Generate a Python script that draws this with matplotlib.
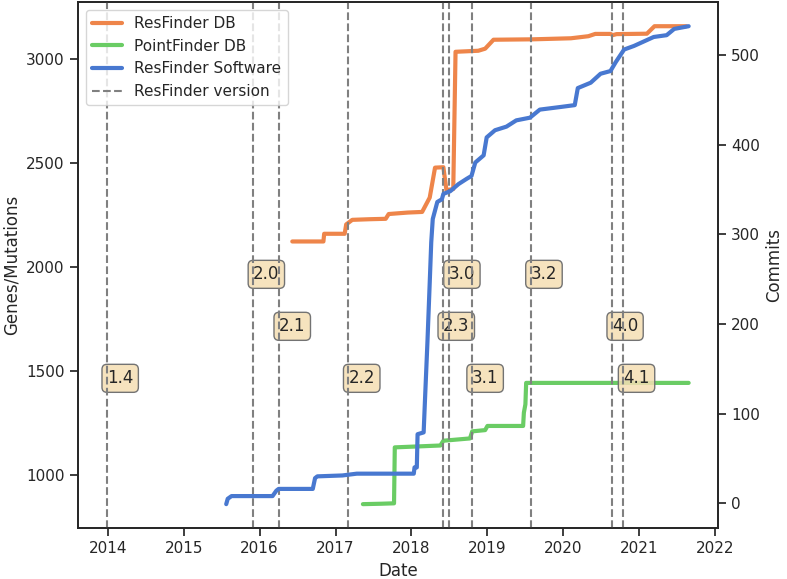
from matplotlib import pyplot as plt
from matplotlib.lines import Line2D
from matplotlib.ticker import MultipleLocator, FormatStrFormatter
import seaborn as sns

# ResFinder DB size (decimal year, genes)
resfinder_x = [2016.43, 2016.84, 2016.85, 2017.12, 2017.14, 2017.22, 2017.45, 2017.66, 2017.70, 2017.95,
               2018.14, 2018.24, 2018.31, 2018.42, 2018.46, 2018.55, 2018.58, 2018.88, 2018.97, 2019.08,
               2019.60, 2020.10, 2020.33, 2020.42, 2020.62, 2020.65, 2020.70, 2021.10, 2021.20, 2021.62]
resfinder_y = [2123, 2123, 2160, 2160, 2205, 2227, 2230, 2232, 2255, 2262,
               2265, 2334, 2478, 2480, 2370, 2375, 3035, 3040, 3050, 3093,
               3095, 3100, 3110, 3121, 3121, 3115, 3120, 3122, 3158, 3158]

# PointFinder DB size (decimal year, mutations)
pointfinder_x = [2017.36, 2017.60, 2017.77, 2017.78, 2018.38, 2018.42, 2018.77, 2018.80, 2018.97, 2019.00,
                 2019.47, 2019.48, 2019.50, 2019.51, 2021.65]
pointfinder_y = [860, 862, 864, 1133, 1142, 1165, 1176, 1210, 1216, 1236,
                 1236, 1300, 1340, 1443, 1443]

# ResFinder software commits (decimal year, cumulative commits)
software_x = [2015.56, 2015.58, 2015.63, 2016.17, 2016.22, 2016.25, 2016.70, 2016.73, 2016.76, 2017.09,
              2017.28, 2018.03, 2018.04, 2018.07, 2018.08, 2018.16, 2018.18, 2018.21, 2018.24, 2018.26,
              2018.28, 2018.34, 2018.40, 2018.42, 2018.51, 2018.62, 2018.73, 2018.79, 2018.84, 2018.95,
              2018.99, 2019.10, 2019.25, 2019.38, 2019.56, 2019.69, 2019.97, 2020.15, 2020.19, 2020.36,
              2020.49, 2020.62, 2020.69, 2020.80, 2020.93, 2021.06, 2021.19, 2021.36, 2021.46, 2021.65]
software_y = [-1, 5, 8, 8, 14, 16, 16, 28, 30, 31,
              33, 33, 40, 40, 77, 79, 120, 180, 246, 291,
              317, 336, 339, 345, 348, 356, 362, 365, 380, 388,
              408, 416, 420, 427, 430, 439, 442, 444, 463, 469,
              479, 482, 492, 506, 510, 515, 520, 522, 529, 532]

# ResFinder releases
versions = ['1.4', '2.0', '2.1', '2.2', '2.3', '3.0', '3.1', '3.2', '4.0', '4.1']
version_dates = [2013.99, 2015.915, 2016.255, 2017.17, 2018.415, 2018.49, 2018.795, 2019.57, 2020.64, 2020.79]
version_label_y = [1465, 1965, 1715, 1465, 1715, 1965, 1465, 1965, 1715, 1465]


def plot_history():
    sns.set_theme(style='ticks', palette='muted')
    colors = sns.color_palette('muted')

    fig, ax1 = plt.subplots(figsize=(7.87, 5.79), dpi=100)
    ax2 = ax1.twinx()

    ax1.plot(resfinder_x, resfinder_y, color=colors[1], lw=3, label='ResFinder DB')
    ax1.plot(pointfinder_x, pointfinder_y, color=colors[2], lw=3, label='PointFinder DB')

    for v, d, y in zip(versions, version_dates, version_label_y):
        ax1.text(d, y, v, fontsize=12, va='center', ha='left',
                 bbox=dict(boxstyle='round', facecolor=(0.96, 0.87, 0.70, 0.85),
                           edgecolor=(0.45, 0.45, 0.45)))

    for d in version_dates:
        ax2.axvline(d, color='gray', linestyle='--', lw=1.5)
    ax2.plot(software_x, software_y, color=colors[0], lw=3, label='ResFinder Software')

    ax1.xaxis.set_major_locator(MultipleLocator(1))
    ax1.xaxis.set_major_formatter(FormatStrFormatter('%d'))
    ax1.set_xlabel('Date')
    ax1.set_ylabel('Genes/Mutations')
    ax2.set_ylabel('Commits')

    handles = ax1.get_lines() + [ax2.get_lines()[-1]]
    handles.append(Line2D([], [], color='gray', linestyle='--', lw=1.5, label='ResFinder version'))
    ax2.legend(handles=handles, loc='upper left', fontsize=11)

    plt.subplots_adjust(left=0.099, right=0.912, top=0.996, bottom=0.088)
    plt.savefig('out.png')


if __name__ == '__main__':
    plot_history()
